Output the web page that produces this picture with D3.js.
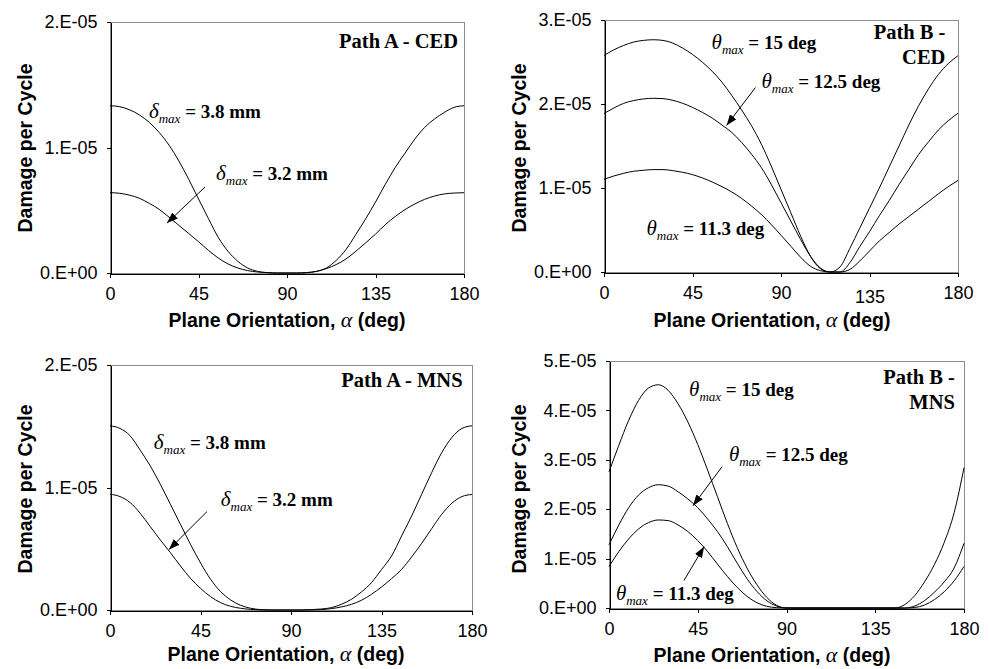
<!DOCTYPE html>
<html>
<head>
<meta charset="utf-8">
<script src="https://cdn.jsdelivr.net/npm/d3@7"></script>
<style>
  body { margin: 0; background: #fff; }
  .axis path, .axis line { stroke: #000; shape-rendering: crispEdges; }
  .axis text { font-family: "Liberation Sans", Arial, sans-serif; font-size: 18px; fill: #000; }
  .frame { fill: none; stroke: #8c8c8c; shape-rendering: crispEdges; }
  .curve { fill: none; stroke: #000; stroke-width: 1; }
  .axis-title { font-family: "Liberation Sans", Arial, sans-serif; font-size: 19.5px; font-weight: bold; fill: #000; }
  .note { font-family: "Liberation Serif", "Times New Roman", serif; font-size: 19px; font-weight: bold; fill: #000; }
  .panel-title { font-family: "Liberation Serif", "Times New Roman", serif; font-size: 20.5px; font-weight: bold; fill: #000; }
</style>
</head>
<body>
<div class="plot_canvas"></div>
<script>
// plane orientation, alpha (deg)
var angles = [0, 5, 10, 15, 20, 25, 30, 35, 40, 45, 50, 55, 60, 65, 70, 75, 80, 85, 90,
  95, 100, 105, 110, 115, 120, 125, 130, 135, 140, 145, 150, 155, 160, 165, 170, 175, 180];

// damage per cycle, in units of 1E-05
var cedA_38 = [1.333, 1.325, 1.30, 1.259, 1.20, 1.12, 1.019, 0.893, 0.747, 0.59, 0.435, 0.285, 0.173, 0.093, 0.04, 0.013, 0.003, 0, 0,
  0, 0.003, 0.013, 0.04, 0.10, 0.187, 0.307, 0.432, 0.565, 0.707, 0.84, 0.955, 1.067, 1.16, 1.227, 1.28, 1.32, 1.333];
var cedA_32 = [0.64, 0.635, 0.62, 0.595, 0.555, 0.507, 0.445, 0.38, 0.315, 0.25, 0.181, 0.12, 0.072, 0.04, 0.019, 0.008, 0.003, 0, 0,
  0, 0.003, 0.013, 0.035, 0.067, 0.112, 0.173, 0.24, 0.31, 0.385, 0.45, 0.505, 0.55, 0.587, 0.613, 0.63, 0.637, 0.64];

var cedB_15 = [2.578, 2.645, 2.697, 2.737, 2.757, 2.765, 2.757, 2.725, 2.665, 2.59, 2.498, 2.39, 2.259, 2.10, 1.928, 1.741, 1.522, 1.263, 0.984,
  0.705, 0.426, 0.187, 0.04, 0, 0.06, 0.28, 0.52, 0.76, 1.0, 1.25, 1.50, 1.75, 1.98, 2.18, 2.35, 2.48, 2.575];
var cedB_125 = [1.888, 1.952, 2.008, 2.04, 2.06, 2.068, 2.064, 2.044, 2.008, 1.96, 1.90, 1.833, 1.749, 1.661, 1.542, 1.402, 1.243, 1.044, 0.825,
  0.606, 0.386, 0.187, 0.048, 0, 0, 0.11, 0.30, 0.48, 0.67, 0.85, 1.04, 1.22, 1.40, 1.55, 1.69, 1.80, 1.89];
var cedB_113 = [1.104, 1.143, 1.175, 1.199, 1.211, 1.219, 1.219, 1.207, 1.187, 1.159, 1.12, 1.072, 1.016, 0.952, 0.876, 0.785, 0.685, 0.566, 0.438,
  0.307, 0.175, 0.068, 0.016, 0, 0, 0.03, 0.13, 0.25, 0.37, 0.47, 0.57, 0.66, 0.75, 0.84, 0.93, 1.015, 1.09];

var mnsA_38 = [1.504, 1.482, 1.422, 1.305, 1.177, 1.027, 0.864, 0.70, 0.537, 0.385, 0.251, 0.15, 0.082, 0.038, 0.014, 0.003, 0, 0, 0,
  0, 0.003, 0.008, 0.019, 0.046, 0.087, 0.147, 0.223, 0.33, 0.441, 0.605, 0.768, 0.946, 1.123, 1.286, 1.409, 1.482, 1.504];
var mnsA_32 = [0.945, 0.926, 0.877, 0.79, 0.681, 0.572, 0.469, 0.36, 0.259, 0.177, 0.109, 0.06, 0.03, 0.014, 0.005, 0.001, 0, 0, 0,
  0, 0.001, 0.003, 0.011, 0.025, 0.046, 0.079, 0.128, 0.188, 0.256, 0.332, 0.433, 0.545, 0.665, 0.782, 0.872, 0.926, 0.943];

var mnsB_15 = [2.757, 3.295, 3.80, 4.203, 4.452, 4.519, 4.405, 4.136, 3.766, 3.309, 2.791, 2.253, 1.715, 1.224, 0.807, 0.471, 0.215, 0.054, 0,
  0, 0, 0, 0, 0, 0, 0, 0, 0, 0, 0, 0.07, 0.25, 0.53, 0.88, 1.33, 1.93, 2.84];
var mnsB_125 = [1.278, 1.681, 2.031, 2.286, 2.434, 2.495, 2.468, 2.354, 2.206, 2.031, 1.802, 1.547, 1.244, 0.908, 0.592, 0.336, 0.148, 0.04, 0,
  0, 0, 0, 0, 0, 0, 0, 0, 0, 0, 0, 0, 0.04, 0.15, 0.32, 0.53, 0.81, 1.31];
var mnsB_113 = [0.841, 1.143, 1.399, 1.60, 1.728, 1.782, 1.769, 1.681, 1.547, 1.365, 1.143, 0.888, 0.639, 0.417, 0.235, 0.108, 0.034, 0.007, 0,
  0, 0, 0, 0, 0, 0, 0, 0, 0, 0, 0, 0, 0.01, 0.06, 0.17, 0.33, 0.55, 0.84];

// tick values and labels
var xTicks = [0, 45, 90, 135, 180];
var yLabels2 = ["0.E+00", "1.E-05", "2.E-05"];
var yLabels3 = ["0.E+00", "1.E-05", "2.E-05", "3.E-05"];
var yLabels5 = ["0.E+00", "1.E-05", "2.E-05", "3.E-05", "4.E-05", "5.E-05"];

// panel contents (annotation anchors in data units: [deg, 1E-05])
var panels = [
  { series: [cedA_38, cedA_32], yLabels: yLabels2,
    title: ["Path A - CED"], titleAt: [177, 1.793],
    notes: [{ sym: "\u03b4", text: " = 3.8 mm", at: [19.8, 1.235] },
            { sym: "\u03b4", text: " = 3.2 mm", at: [53.9, 0.741] }],
    arrows: [[[48.3, 0.685], [29.0, 0.398]]] },
  { series: [cedB_15, cedB_125, cedB_113], yLabels: yLabels3,
    title: ["Path B -", "CED"], titleAt: [173.6, 2.768],
    notes: [{ sym: "\u03b8", text: " = 15 deg", at: [54.7, 2.649] },
            { sym: "\u03b8", text: " = 12.5 deg", at: [80.1, 2.196] },
            { sym: "\u03b8", text: " = 11.3 deg", at: [21.6, 0.446] }],
    arrows: [[[77.0, 2.196], [62.3, 1.744]]] },
  { series: [mnsA_38, mnsA_32], yLabels: yLabels2,
    title: ["Path A - MNS"], titleAt: [175.3, 1.821],
    notes: [{ sym: "\u03b4", text: " = 3.8 mm", at: [21.8, 1.316] },
            { sym: "\u03b4", text: " = 3.2 mm", at: [55.1, 0.851] }],
    arrows: [[[48.2, 0.803], [29.3, 0.493]]] },
  { series: [mnsB_15, mnsB_125, mnsB_113], yLabels: yLabels5,
    title: ["Path B -", "MNS"], titleAt: [175.4, 4.535],
    notes: [{ sym: "\u03b8", text: " = 15 deg", at: [40.6, 4.293] },
            { sym: "\u03b8", text: " = 12.5 deg", at: [60.8, 2.98] },
            { sym: "\u03b8", text: " = 11.3 deg", at: [3.5, 0.152] }],
    arrows: [[[57.3, 2.859], [42.6, 2.071]], [[38.0, 0.556], [48.2, 1.242]]] }
];

// plot boxes in page pixels
var layout = [
  { x0: 110, x1: 464, y0: 22, y1: 273, xTitle: [287, 327], yTitle: [25, 148] },
  { x0: 604, x1: 958, y0: 20, y1: 272, xTitle: [772, 327], yTitle: [519, 148] },
  { x0: 110, x1: 472, y0: 365, y1: 610, xTitle: [286, 661], yTitle: [25, 489] },
  { x0: 609, x1: 964, y0: 361, y1: 608, xTitle: [772, 662], yTitle: [519, 489] }
];

var svg = d3.select(".plot_canvas").append("svg")
  .attr("width", 989).attr("height", 669)
  .style("display", "block");

svg.append("defs").append("marker")
  .attr("id", "arrowhead")
  .attr("markerUnits", "userSpaceOnUse")
  .attr("markerWidth", 12).attr("markerHeight", 10)
  .attr("refX", 11).attr("refY", 4)
  .attr("orient", "auto")
  .append("path")
  .attr("d", "M0,0 L11,4 L0,8 Z")
  .attr("fill", "#000");

panels.forEach(function (p, i) {
  var L = layout[i];
  var yMax = p.yLabels.length - 1;

  var xScale = d3.scaleLinear().domain([0, 180]).range([L.x0, L.x1]);
  var yScale = d3.scaleLinear().domain([0, yMax]).range([L.y1, L.y0]);

  var g = svg.append("g");

  g.append("rect").attr("class", "frame")
    .attr("x", L.x0 + 0.5).attr("y", L.y0 + 0.5)
    .attr("width", L.x1 - L.x0).attr("height", L.y1 - L.y0);

  var xAxis = g.append("g").attr("class", "axis")
    .attr("transform", "translate(0," + (L.y1 + 0.5) + ")")
    .call(d3.axisBottom(xScale).tickValues(xTicks).tickSize(4).tickSizeOuter(0).tickPadding(10));

  // the "135" label sits a little lower in the Path B - CED panel
  if (i === 1) {
    xAxis.selectAll(".tick text").filter(function (d) { return d === 135; }).attr("dy", "0.92em");
  }

  g.append("g").attr("class", "axis")
    .attr("transform", "translate(" + (L.x0 + 0.5) + ",0)")
    .call(d3.axisLeft(yScale).tickValues(d3.range(0, yMax + 1))
      .tickFormat(function (d, k) { return p.yLabels[k]; })
      .tickSize(4).tickSizeOuter(0).tickPadding(9));

  var line = d3.line()
    .x(function (d, k) { return xScale(angles[k]); })
    .y(function (d) { return yScale(d); })
    .curve(d3.curveMonotoneX);

  g.selectAll("path.curve").data(p.series).enter()
    .append("path").attr("class", "curve")
    .attr("d", function (s) { return line(s); });

  // axis titles
  var xt = g.append("text").attr("class", "axis-title")
    .attr("x", L.xTitle[0]).attr("y", L.xTitle[1])
    .attr("text-anchor", "middle");
  xt.append("tspan").text("Plane Orientation, ");
  xt.append("tspan")
    .style("font-family", "'Liberation Serif', 'Times New Roman', serif")
    .style("font-style", "italic").style("font-weight", "normal")
    .style("font-size", "22px").text("\u03b1");
  xt.append("tspan").text(" (deg)");

  g.append("text").attr("class", "axis-title")
    .attr("transform", "translate(" + L.yTitle[0] + "," + L.yTitle[1] + ") rotate(-90)")
    .attr("text-anchor", "middle").attr("dy", "0.35em")
    .text("Damage per Cycle");

  // panel title
  g.append("text").attr("class", "panel-title")
    .attr("x", xScale(p.titleAt[0])).attr("y", yScale(p.titleAt[1]))
    .attr("text-anchor", "end")
    .selectAll("tspan").data(p.title).enter()
    .append("tspan")
    .attr("x", xScale(p.titleAt[0]))
    .attr("dy", function (d, k) { return k === 0 ? 0 : 25; })
    .text(function (d) { return d; });

  // curve labels
  p.notes.forEach(function (n) {
    var t = g.append("text").attr("class", "note")
      .attr("x", xScale(n.at[0])).attr("y", yScale(n.at[1]));
    t.append("tspan").style("font-style", "italic").style("font-weight", "normal")
      .style("font-size", "21px").text(n.sym);
    t.append("tspan").style("font-style", "italic").style("font-weight", "normal")
      .style("font-size", "13px").attr("dy", 5).text("max");
    t.append("tspan").attr("dy", -5).text(n.text);
  });

  // arrows
  p.arrows.forEach(function (a) {
    g.append("line")
      .attr("x1", xScale(a[0][0])).attr("y1", yScale(a[0][1]))
      .attr("x2", xScale(a[1][0])).attr("y2", yScale(a[1][1]))
      .attr("stroke", "#000").attr("stroke-width", 1)
      .attr("marker-end", "url(#arrowhead)");
  });
});
</script>
</body>
</html>
